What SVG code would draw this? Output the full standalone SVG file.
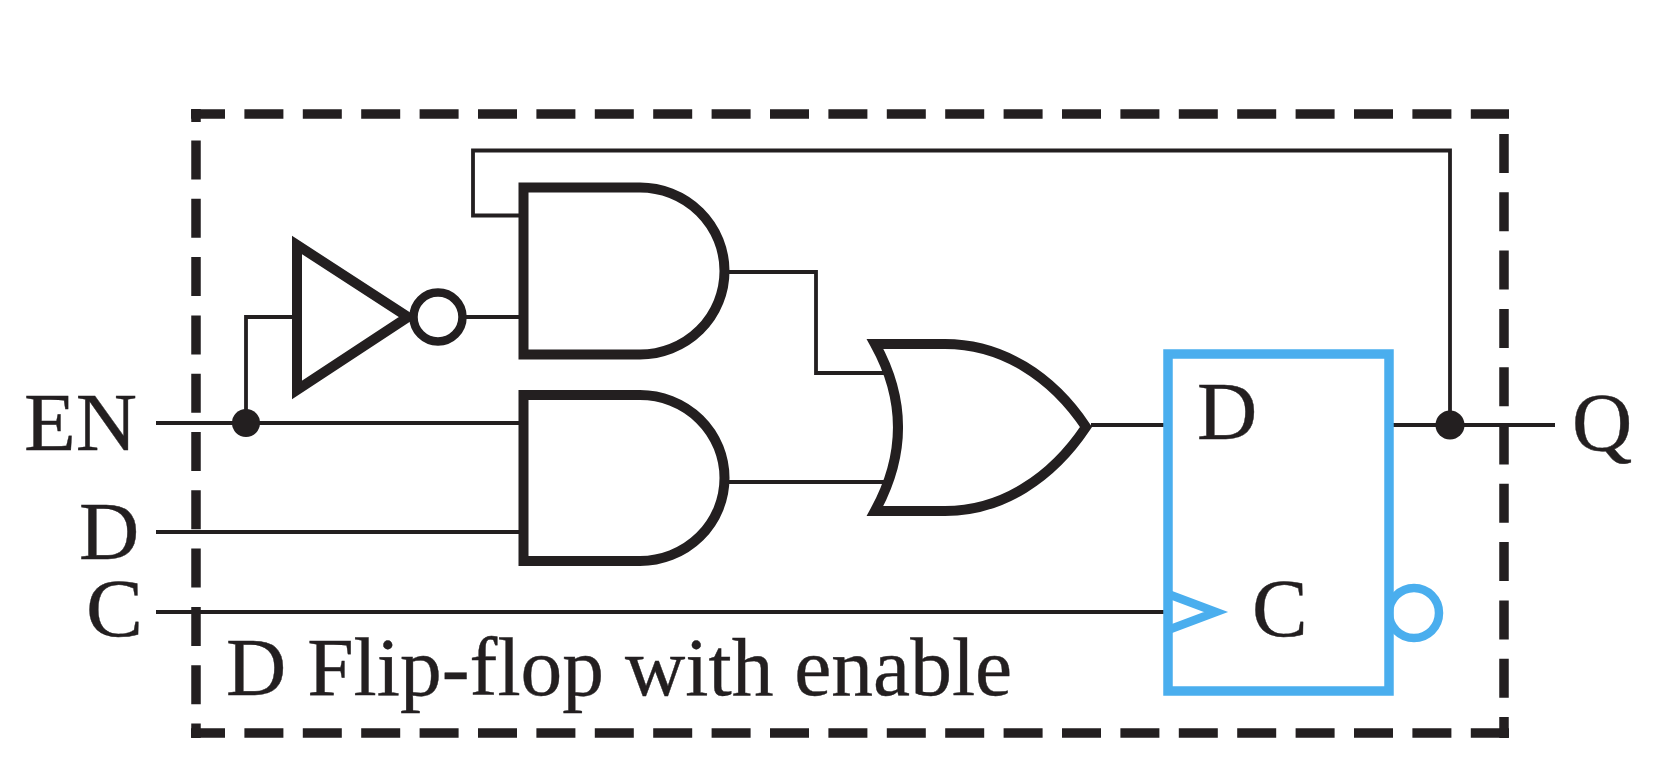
<svg xmlns="http://www.w3.org/2000/svg" width="1656" height="774" viewBox="0 0 1656 774">
<style>
.wire{fill:none;stroke:#231f20;stroke-width:3.8}
.gate{fill:none;stroke:#231f20;stroke-width:10}
.ff{fill:none;stroke:#4aaeee;stroke-width:9.500}
.dash{fill:none;stroke:#231f20;stroke-width:9.500}
.dot{fill:#231f20}
text{font-family:"Liberation Serif","Times New Roman",serif;font-size:83.500px;fill:#231f20;stroke:#231f20;stroke-width:0.4}
</style>
<rect width="1656" height="774" fill="#ffffff"/>
<g id="boundary">
<path class="dash" d="M191 114H1509" stroke-dasharray="39 19.4" stroke-dashoffset="5"/>
<path class="dash" d="M191 733H1509" stroke-dasharray="39 19.4" stroke-dashoffset="5"/>
<path class="dash" d="M196 109V122"/>
<path class="dash" d="M196 140.500V738" stroke-dasharray="39 19.3"/>
<path class="dash" d="M1504 134V738" stroke-dasharray="39 19.3"/>
</g>
<g id="connectors">
<path class="wire" d="M156 423H519"/>
<path class="wire" d="M246 423V317H297"/>
<path class="wire" d="M156 532H519"/>
<path class="wire" d="M156 612H1164"/>
<path class="wire" d="M465 317H519"/>
<path class="wire" d="M519 215.500H473V150.500H1450V425"/>
<path class="wire" d="M728 272H816V373H885"/>
<path class="wire" d="M728 482H885"/>
<path class="wire" d="M1091 425H1164"/>
<path class="wire" d="M1393 425H1555"/>
<circle class="dot" cx="246" cy="423" r="14"/>
<circle class="dot" cx="1450" cy="425" r="14.500"/>
</g>
<g id="inverter">
<path class="gate" d="M297 245L408 317L297 390Z"/>
<circle cx="438" cy="317" r="24.500" fill="#fff" stroke="#231f20" stroke-width="8.500"/>
</g>
<g id="and-top"><path class="gate" d="M523.500 187.500H640A84.500 83.500 0 0 1 640 354.500H523.500Z"/></g>
<g id="and-bottom"><path class="gate" d="M523.500 395H640A84.500 83 0 0 1 640 561H523.500Z"/></g>
<g id="or-gate"><path class="gate" d="M875 344H945C1002 344 1052 376 1086 427C1052 478 1002 511 945 511H875Q921 427 875 344Z"/></g>
<g id="flip-flop">
<circle cx="1414" cy="613" r="25" fill="none" stroke="#4aaeee" stroke-width="8.500"/>
<rect x="1164" y="359" width="225" height="328" fill="#fff"/>
<rect class="ff" x="1168" y="354" width="221" height="337"/>
<path fill="none" stroke="#4aaeee" stroke-width="8.500" d="M1168 594L1216 612L1168 630"/>
<text x="1197" y="439">D</text>
<text x="1252" y="636">C</text>
</g>
<g id="labels">
<text x="24" y="450" textLength="113" lengthAdjust="spacingAndGlyphs">EN</text>
<text x="79" y="559">D</text>
<text x="86" y="636" textLength="57" lengthAdjust="spacingAndGlyphs">C</text>
<text x="1572" y="450">Q</text>
<text x="226" y="695">D Flip-flop with enable</text>
</g>
</svg>
